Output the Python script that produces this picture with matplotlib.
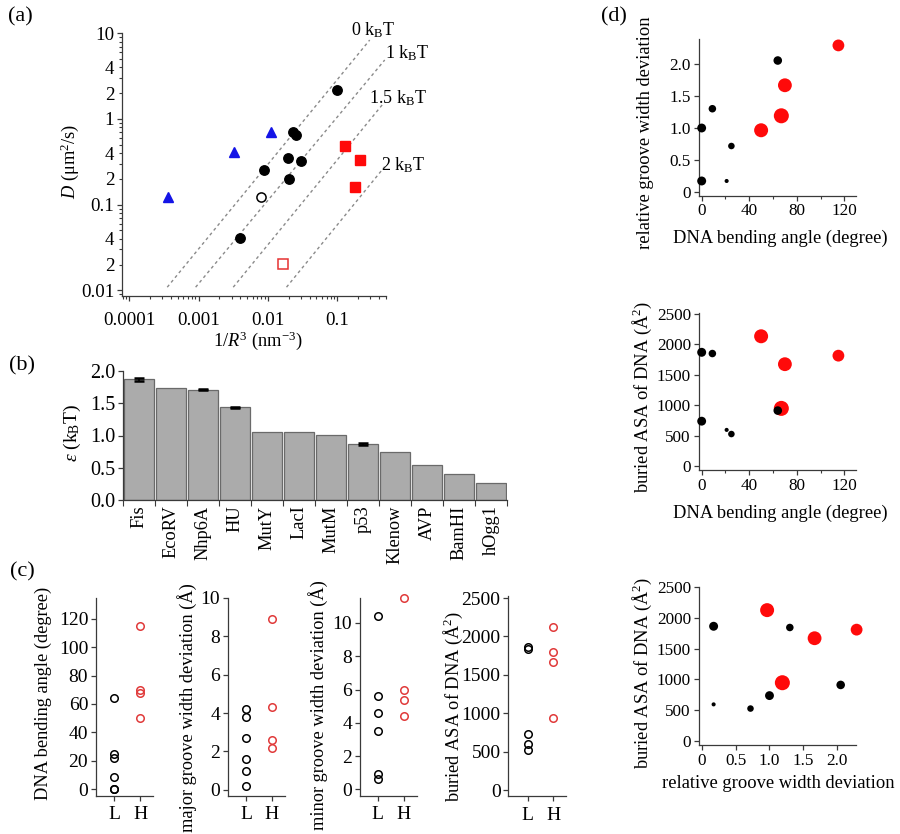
import numpy as np
import matplotlib
matplotlib.use("Agg")
import matplotlib.pyplot as plt
from matplotlib.ticker import LogLocator, FuncFormatter, MultipleLocator, FixedLocator, NullFormatter

plt.rcParams["font.family"] = ["Liberation Serif", "DejaVu Serif"]
plt.rcParams["mathtext.fontset"] = "custom"
plt.rcParams["mathtext.rm"] = "Liberation Serif"
plt.rcParams["mathtext.it"] = "Liberation Serif:italic"
plt.rcParams["font.size"] = 13

# ---- (a) diffusion coefficient vs 1/R^3 ----
a_fill_x = [0.1, 0.0231, 0.0252, 0.0198, 0.0298, 0.0088, 0.020, 0.0039]
a_fill_y = [2.2, 0.70, 0.645, 0.354, 0.32, 0.254, 0.20, 0.0405]
a_open_x = [0.0079]
a_open_y = [0.122]
a_tri_x = [0.00036, 0.0032, 0.0109]
a_tri_y = [0.124, 0.41, 0.70]
a_sq_x = [0.131, 0.213, 0.183]
a_sq_y = [0.49, 0.335, 0.16]
a_opensq_x = [0.0166]
a_opensq_y = [0.0203]
# reference lines, start / end
line_labels = ["0 k$_\\mathrm{B}$T", "1 k$_\\mathrm{B}$T", "1.5 k$_\\mathrm{B}$T", "2 k$_\\mathrm{B}$T"]
line_x = [[0.000353, 0.294], [0.000906, 0.484], [0.00316, 0.457], [0.01854, 0.484]]
line_y = [[0.0109, 8.35], [0.0109, 4.88], [0.0109, 1.50], [0.0109, 0.278]]

# ---- (b) roughness energy per protein ----
proteins = ["Fis", "EcoRV", "Nhp6A", "HU", "MutY", "LacI", "MutM", "p53",
            "Klenow", "AVP", "BamHI", "hOgg1"]
eps = [1.87, 1.73, 1.71, 1.44, 1.06, 1.05, 1.01, 0.87, 0.74, 0.55, 0.41, 0.26]
eps_err = [0.02, 0, 0.006, 0.006, 0, 0, 0, 0.01, 0, 0, 0, 0]

# ---- (c) L / H groups ----
c_bend_L = [64, 25, 22, 9, 0, 0]
c_bend_H = [115, 70, 68, 50]
c_major_L = [4.2, 3.8, 2.7, 1.6, 1.0, 0.2]
c_major_H = [8.9, 4.3, 2.6, 2.2]
c_minor_L = [10.4, 5.6, 4.6, 3.5, 0.9, 0.6]
c_minor_H = [11.5, 6.0, 5.4, 4.4]
c_asa_L = [1860, 1840, 730, 600, 520]
c_asa_H = [2120, 1800, 1665, 940]

# ---- (d) pairwise, marker size encodes epsilon ----
d_bend = [0, 0, 9, 25, 21, 64, 50, 67, 70, 115]
d_groove = [1.0, 0.176, 1.30, 0.72, 0.176, 2.05, 0.965, 1.19, 1.665, 2.285]
d_asa = [735, 1865, 1845, 524, 592, 909, 2128, 945, 1670, 1810]
d_eps = [1.05, 1.06, 0.87, 0.74, 0.41, 1.01, 1.73, 1.87, 1.71, 1.44]
d_high = [False] * 6 + [True] * 4

W, H = 900, 834
fig = plt.figure(figsize=(W / 100, H / 100), dpi=100)
AX = "#3a3a3a"
RED = "#ff0a0a"
LAB = 13.2


def box(x0, y0, x1, y1):
    return fig.add_axes([x0 / W, 1 - y1 / H, (x1 - x0) / W, (y1 - y0) / H])


def igor(ax):
    for s in ("top", "right"):
        ax.spines[s].set_visible(False)
    for s in ("left", "bottom"):
        ax.spines[s].set_color(AX)
        ax.spines[s].set_linewidth(0.9)
    ax.tick_params(direction="out", length=3.6, width=0.9, color=AX, pad=2)
    ax.tick_params(which="minor", direction="out", length=2.2, width=0.8, color=AX)
    ax.patch.set_alpha(0)


def ylab(ax, text, x, y, size=LAB):
    ax.set_ylabel(text, fontsize=size)
    ax.yaxis.set_label_coords(x / W, 1 - y / H, transform=fig.transFigure)
    ax.yaxis.label.set_va("center")


def xlab(ax, text, x, y, size=LAB):
    ax.set_xlabel(text, fontsize=size)
    ax.xaxis.set_label_coords(x / W, 1 - y / H, transform=fig.transFigure)
    ax.xaxis.label.set_va("center")


def ftext(x, y, s, **kw):
    fig.text(x / W, 1 - y / H, s, ha="center", va="center", **kw)


# ---------------- (a) ----------------
ax = box(122, 33.3, 386, 296)
igor(ax)
ax.set_xscale("log")
ax.set_yscale("log")
for lx, ly in zip(line_x, line_y):
    ax.plot(lx, ly, ls=(0, (2.2, 2.2)), color="#8a8a8a", lw=1.0)
ax.plot(a_fill_x, a_fill_y, "o", color="k", ms=6.8, mec="k")
ax.plot(a_open_x, a_open_y, "o", mfc="white", mec="k", ms=6.6, mew=1.1)
ax.plot(a_tri_x, a_tri_y, "^", color="#1414e6", ms=7.2)
ax.plot(a_sq_x, a_sq_y, "s", color=RED, ms=6.8)
ax.plot(a_opensq_x, a_opensq_y, "s", mfc="white", mec="#e63232", ms=6.8, mew=1.1)
ax.set_xlim(7.85e-5, 0.505)
ax.set_ylim(0.0086, 10)


def mant_fmt(v, p):
    m = v / 10 ** np.floor(np.log10(v) + 1e-9)
    r = int(round(m))
    return str(r) if r in (2, 4) else ""


ax.yaxis.set_major_locator(LogLocator(base=10, numticks=10))
ax.yaxis.set_major_formatter(FuncFormatter(lambda v, p: "%g" % v))
ax.yaxis.set_minor_locator(LogLocator(base=10, subs=np.arange(2, 10), numticks=20))
ax.yaxis.set_minor_formatter(FuncFormatter(mant_fmt))
ax.xaxis.set_major_locator(LogLocator(base=10, numticks=10))
ax.xaxis.set_major_formatter(FuncFormatter(lambda v, p: "%g" % v))
ax.xaxis.set_minor_locator(LogLocator(base=10, subs=np.arange(2, 10), numticks=20))
ax.xaxis.set_minor_formatter(NullFormatter())
ax.tick_params(axis="both", which="both", labelsize=13.6)
ax.tick_params(axis="x", which="major", pad=8)
ylab(ax, "$D$ (μm$^2$/s)", 70, 162)
xlab(ax, "1/$R^3$ (nm$^{-3}$)", 258, 341)
ftext(373, 30, line_labels[0], fontsize=13)
ftext(407, 53, line_labels[1], fontsize=13)
ftext(398, 98, line_labels[2], fontsize=13)
ftext(403, 165, line_labels[3], fontsize=13)

# ---------------- (b) ----------------
ax = box(123, 371, 507, 500)
igor(ax)
xb = np.arange(len(proteins))
ax.bar(xb, eps, width=0.92, color="#ababab", edgecolor="#6a6a6a", linewidth=0.9, zorder=2)
err_idx = [i for i, e in enumerate(eps_err) if e > 0]
ax.errorbar([xb[i] for i in err_idx], [eps[i] for i in err_idx],
            yerr=[eps_err[i] for i in err_idx], fmt="none", ecolor="k",
            elinewidth=1.2, capsize=3.5, capthick=1.8, zorder=3)
ax.set_xlim(-0.5, len(proteins) - 0.5)
ax.set_ylim(0, 2.0)
ax.yaxis.set_major_locator(MultipleLocator(0.5))
ax.yaxis.set_major_formatter(FuncFormatter(lambda v, p: "%.1f" % v))
ax.set_xticks(xb)
ax.set_xticklabels(proteins, rotation=90, fontsize=13.2)
ax.tick_params(axis="x", which="major", length=0, pad=4)
ax.xaxis.set_minor_locator(FixedLocator(np.arange(-0.5, len(proteins), 1.0)))
ax.tick_params(axis="x", which="minor", length=4)
ax.tick_params(axis="y", labelsize=14.5)
ylab(ax, "$\\varepsilon$ (k$_\\mathrm{B}$T)", 72, 433, size=14)

# ---------------- (c) ----------------
c_specs = [
    ((96, 598.3, 152.7, 795.7), (-4.5, 134.3), (-0.7, 1.48), 20, c_bend_L, c_bend_H,
     "DNA bending angle (degree)", (43, 693)),
    ((227.7, 597.7, 285, 795.7), (-0.3, 10.0), (-0.7, 1.5), 2, c_major_L, c_major_H,
     "major groove width deviation (Å)", (187, 708)),
    ((360, 598, 416.7, 795.7), (-0.38, 11.5), (-0.68, 1.5), 2, c_minor_L, c_minor_H,
     "minor groove width deviation (Å)", (318, 705)),
    ((508.3, 596.5, 566, 796), (-78, 2520), (-0.76, 1.5), 500, c_asa_L, c_asa_H,
     "buried ASA of DNA (Å$^2$)", (453, 707)),
]
for rect, ylim, xlim, step, vl, vh, lab, lpos in c_specs:
    ax = box(*rect)
    igor(ax)
    ax.plot([0] * len(vl), vl, "o", mfc="none", mec="k", ms=5.4, mew=1.1, clip_on=False)
    ax.plot([1] * len(vh), vh, "o", mfc="none", mec="#e03a3a", ms=5.4, mew=1.1, clip_on=False)
    ax.set_ylim(*ylim)
    ax.set_xlim(*xlim)
    ax.yaxis.set_major_locator(MultipleLocator(step))
    ax.set_xticks([0, 1])
    ax.set_xticklabels(["L", "H"])
    ax.tick_params(axis="both", labelsize=14)
    ax.tick_params(axis="x", pad=4)
    ylab(ax, lab, *lpos)

# ---------------- (d) ----------------
d_specs = [
    ((698.7, 39.3, 856, 195.7), d_bend, d_groove, (-2.5, 129.8), (-0.053, 2.38),
     "DNA bending angle (degree)", "relative groove width deviation", (780, 238), (645, 133)),
    ((698.7, 313, 856, 470), d_bend, d_asa, (-2.5, 129.8), (-66, 2510),
     "DNA bending angle (degree)", "buried ASA of DNA (Å$^2$)", (780, 513), (642, 397)),
    ((698.7, 587, 856, 745), d_groove, d_asa, (-0.044, 2.276), (-70, 2505),
     "relative groove width deviation", "buried ASA of DNA (Å$^2$)", (778, 783), (642, 673)),
]
sizes = np.array([((1 + 7.5 * e) * 0.72) ** 2 for e in d_eps])
hi = np.array(d_high)
for rect, xv, yv, xlim, ylim, xl, yl, xlp, ylp in d_specs:
    ax = box(*rect)
    igor(ax)
    xv = np.array(xv)
    yv = np.array(yv)
    ax.scatter(xv[hi], yv[hi], s=sizes[hi], color=RED, linewidths=0, clip_on=False, zorder=3)
    ax.scatter(xv[~hi], yv[~hi], s=sizes[~hi], color="k", linewidths=0, clip_on=False, zorder=4)
    ax.set_xlim(*xlim)
    ax.set_ylim(*ylim)
    if xlim[1] > 10:
        ax.xaxis.set_major_locator(MultipleLocator(40))
        ax.xaxis.set_minor_locator(MultipleLocator(20))
    else:
        ax.xaxis.set_major_locator(MultipleLocator(0.5))
        ax.xaxis.set_major_formatter(FuncFormatter(lambda v, p: "0" if abs(v) < 1e-9 else "%.1f" % v))
    if ylim[1] > 10:
        ax.yaxis.set_major_locator(MultipleLocator(500))
    else:
        ax.yaxis.set_major_locator(MultipleLocator(0.5))
        ax.yaxis.set_major_formatter(FuncFormatter(lambda v, p: "0" if abs(v) < 1e-9 else "%.1f" % v))
    ax.tick_params(axis="both", labelsize=12.3)
    xlab(ax, xl, *xlp, size=13.3)
    ylab(ax, yl, *ylp, size=13.3)

# panel letters
ftext(20, 17, "(a)", fontsize=16)
ftext(22, 366, "(b)", fontsize=16)
ftext(22, 572, "(c)", fontsize=16)
ftext(614, 17, "(d)", fontsize=16)

fig.savefig("out.png", dpi=100)
